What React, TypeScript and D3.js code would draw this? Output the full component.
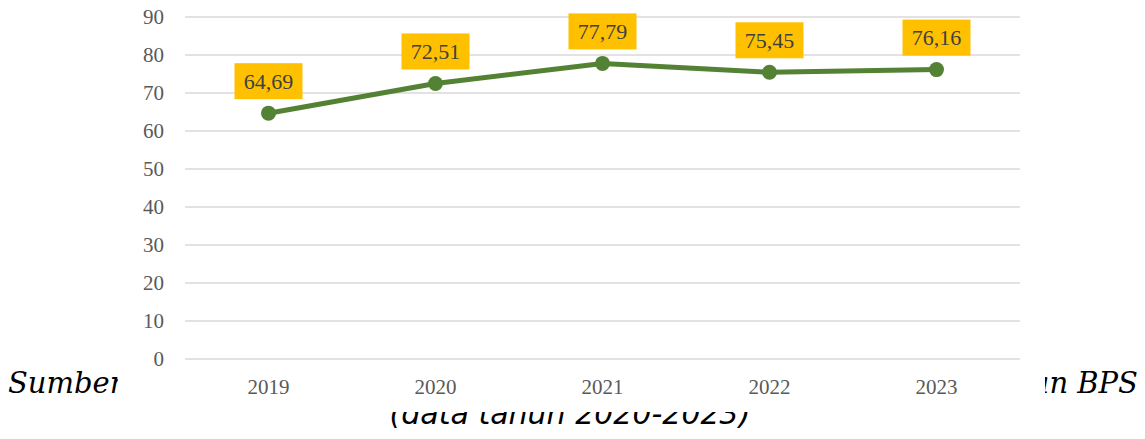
import React from 'react';
import * as d3 from 'd3';

// Values
const years = ['2019', '2020', '2021', '2022', '2023'];
const values = [64.69, 72.51, 77.79, 75.45, 76.16];
const yTicks = [0, 10, 20, 30, 40, 50, 60, 70, 80, 90];

const W = 1145;
const H = 439;

const App: React.FC = () => {
  const x = d3.scaleBand().domain(years).range([185, 1020]).padding(0);
  const y = d3.scaleLinear().domain([0, 90]).range([359, 17]);
  const cx = (d: string) => (x(d) || 0) + x.bandwidth() / 2;

  const line = d3
    .line<number>()
    .x((_, i) => cx(years[i]))
    .y(d => y(d));

  const fmt = (v: number) => v.toFixed(2).replace('.', ',');

  return (
    <svg
      width={W}
      height={H}
      viewBox={`0 0 ${W} ${H}`}
      style={{ position: 'absolute', left: 0, top: 0, background: '#fff' }}
    >
      {/* caption text behind the chart, partly covered */}
      <g fontFamily="DejaVu Serif" fontStyle="italic" fontSize={29} fill="#000">
        <text x={8} y={393}>Sumber:</text>
        <text x={1138} y={393} textAnchor="end">dan BPS</text>
      </g>
      <text
        x={570}
        y={424}
        textAnchor="middle"
        fontFamily="DejaVu Sans"
        fontStyle="italic"
        fontSize={30}
        fill="#000"
      >
        (data tahun 2020-2023)
      </text>

      {/* chart area */}
      <rect x={118} y={0} width={927} height={412} fill="#fff" />

      {/* grid */}
      <g>
        {yTicks.map(t => (
          <line
            key={t}
            x1={185}
            x2={1020}
            y1={y(t)}
            y2={y(t)}
            stroke="#D9D9D9"
            strokeWidth={1.5}
          />
        ))}
      </g>

      {/* y axis labels */}
      <g fontFamily="Liberation Serif" fontSize={21} fill="#595959">
        {yTicks.map(t => (
          <text key={t} x={164} y={y(t)} dy="0.34em" textAnchor="end">
            {t}
          </text>
        ))}
      </g>

      {/* x axis labels */}
      <g fontFamily="Liberation Serif" fontSize={21} fill="#595959">
        {years.map(d => (
          <text key={d} x={cx(d)} y={394} textAnchor="middle">
            {d}
          </text>
        ))}
      </g>

      {/* series */}
      <path
        d={line(values) || ''}
        fill="none"
        stroke="#548235"
        strokeWidth={5}
        strokeLinejoin="round"
        strokeLinecap="round"
      />
      {values.map((v, i) => (
        <circle key={i} cx={cx(years[i])} cy={y(v)} r={7.5} fill="#548235" />
      ))}

      {/* data labels */}
      {values.map((v, i) => {
        const px = cx(years[i]);
        const py = y(v) - 32;
        return (
          <g key={i}>
            <rect x={px - 34} y={py - 18} width={68} height={36} fill="#FFC000" />
            <text
              x={px}
              y={py}
              dy="0.34em"
              textAnchor="middle"
              fontFamily="Liberation Serif"
              fontSize={22}
              fill="#404040"
            >
              {fmt(v)}
            </text>
          </g>
        );
      })}
    </svg>
  );
};

export default App;
